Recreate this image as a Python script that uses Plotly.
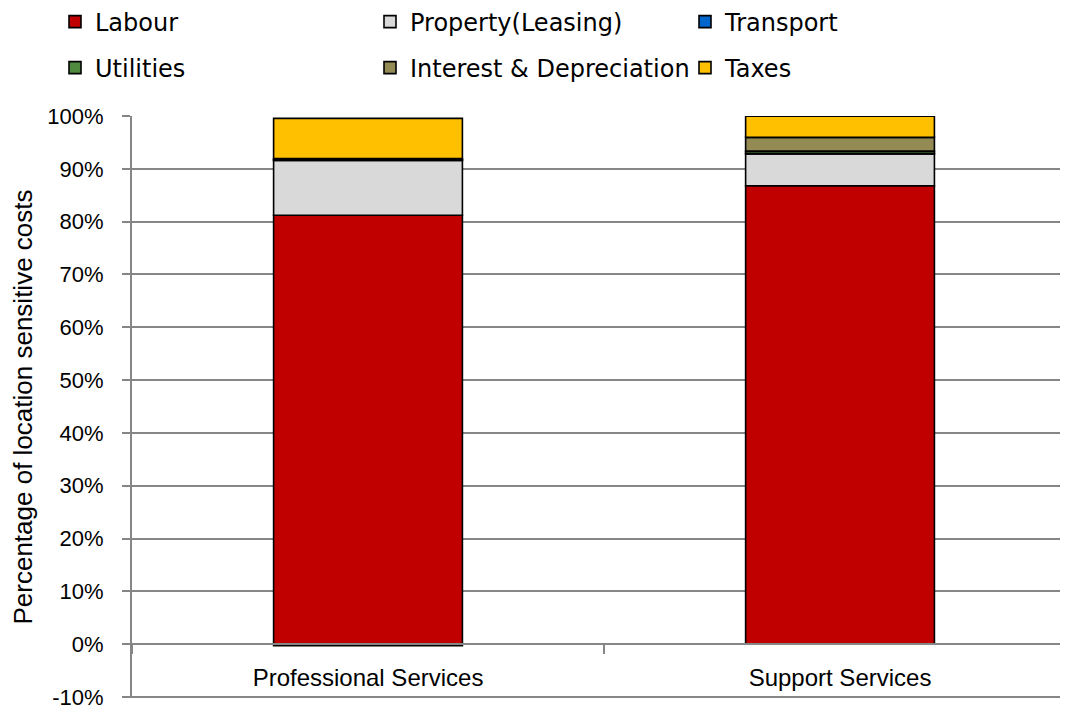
import plotly.graph_objects as go

categories = ["Professional Services", "Support Services"]
series_names = ["Labour", "Property(Leasing)", "Transport", "Utilities",
                "Interest & Depreciation", "Taxes"]
labour = [81.2, 86.8]
property_leasing = [10.4, 6.0]
transport = [0.1, 0.15]
utilities = [0.25, 0.4]
interest_depreciation = [-0.3, 2.6]
taxes = [7.6, 4.0]
colors = ["#C00000", "#D9D9D9", "#0066CC", "#4F8A3F", "#948A54", "#FFC000"]
y_ticks = list(range(-10, 101, 10))

values = [labour, property_leasing, transport, utilities, interest_depreciation, taxes]

fig = go.Figure()
for i, (name, vals, col) in enumerate(zip(series_names, values, colors)):
    fig.add_trace(go.Bar(
        x=categories, y=vals, name=name,
        marker=dict(color=col, line=dict(color="black", width=1.6)),
        width=0.4,
        legend="legend" if i < 3 else "legend2",
    ))

# page has an 8px body margin, so the figure is 8px smaller on each axis
W, H = 1060, 701
y_lo, y_hi = -10.2, 100
ml, mr, mt, mb = 124, 0, 108, 11
plot_w = W - ml - mr
plot_h = H - mt - mb
zero_pos = (0 - y_lo) / (y_hi - y_lo)

leg_font = dict(family="DejaVu Sans", size=24, color="black")
leg_common = dict(
    orientation="h", x=(47 - ml) / plot_w,
    xanchor="left", yanchor="middle",
    entrywidth=270, entrywidthmode="pixels",
    font=leg_font, traceorder="normal", itemclick=False,
    bgcolor="rgba(0,0,0,0)",
)

fig.update_layout(
    width=W, height=H,
    barmode="relative",
    plot_bgcolor="white", paper_bgcolor="white",
    margin=dict(l=ml, r=mr, t=mt, b=mb, autoexpand=False),
    font=dict(family="Liberation Sans, Arial", size=22, color="black"),
    legend=dict(y=1 + (mt - 14) / plot_h, **leg_common),
    legend2=dict(y=1 + (mt - 60) / plot_h, **leg_common),
    showlegend=True,
)
fig.update_xaxes(
    range=[-0.5, 1.483],
    anchor="free", position=zero_pos,
    showline=True, linecolor="#868686", linewidth=2,
    ticks="outside", tickson="boundaries", ticklen=9, tickcolor="#868686", tickwidth=2,
    showgrid=False, zeroline=False,
    ticklabelstandoff=12,
    tickfont=dict(family="Liberation Sans, Arial", size=24),
)
fig.update_yaxes(
    range=[y_lo, y_hi], tickvals=y_ticks, ticktext=[f"{v}%" for v in y_ticks],
    showline=True, linecolor="#868686", linewidth=2,
    ticks="outside", ticklen=8, tickcolor="#868686", tickwidth=2,
    showgrid=True, gridcolor="#868686", gridwidth=2,
    zeroline=False,
    ticklabelstandoff=14, ticklabeloverflow="allow",
    tickfont=dict(family="Liberation Sans, Arial", size=22),
    title=dict(text="Percentage of location sensitive costs",
               font=dict(family="Liberation Sans, Arial", size=26), standoff=8),
)
fig.write_html("out.html")
